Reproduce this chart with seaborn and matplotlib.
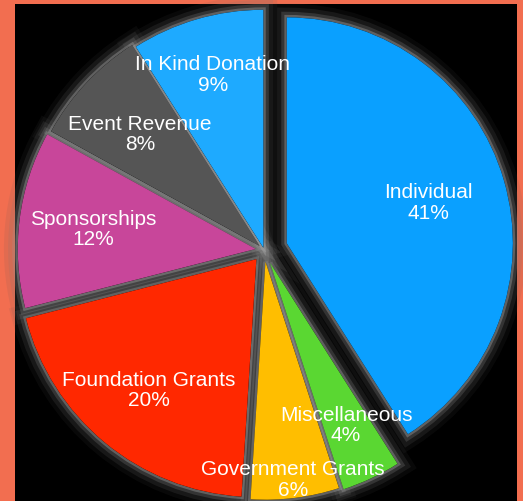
import numpy as np
import matplotlib
matplotlib.use("Agg")
import matplotlib.pyplot as plt
import matplotlib.patheffects as pe
import seaborn as sns

categories = ["Individual", "Miscellaneous", "Government Grants", "Foundation Grants",
              "Sponsorships", "Event Revenue", "In Kind Donation"]
values = [41, 4, 6, 20, 12, 8, 9]
hex_colors = ["#0AA0FF", "#5AD732", "#FFBE00", "#FF2800", "#C8469A", "#555555", "#1EAAFF"]

explode = [0.10, 0.06, 0.05, 0.05, 0.035, 0.025, 0.01]
label_dist = [0.62, 0.75, 0.92, 0.71, 0.69, 0.69, 0.76]

sns.set_style("dark")
plt.rcParams['font.family'] = ['Liberation Sans', 'DejaVu Sans']

colors = sns.color_palette(hex_colors)

fig = plt.figure(figsize=(5.23, 5.02), dpi=100)
fig.patch.set_facecolor("#F26E50")
ax = fig.add_axes([15 / 523, 0, 502 / 523, 497 / 502])

# glow layer
glow_wedges, _ = ax.pie(values, explode=explode, startangle=90, counterclock=False,
                        colors=["black"] * len(values), radius=1.0,
                        wedgeprops=dict(linewidth=0))
for w in glow_wedges:
    w.set_path_effects([
        pe.Stroke(linewidth=20, foreground="#555555", alpha=0.10),
        pe.Stroke(linewidth=14, foreground="#777777", alpha=0.15),
        pe.Stroke(linewidth=8, foreground="#999999", alpha=0.22),
        pe.Stroke(linewidth=3.5, foreground="#b5b5b5", alpha=0.35),
        pe.Normal(),
    ])

wedges, _ = ax.pie(values, explode=explode, startangle=90, counterclock=False,
                   colors=colors, radius=1.0, wedgeprops=dict(linewidth=0))

# Individual slice drawn slightly smaller
for w in (glow_wedges[0], wedges[0]):
    w.set_radius(0.95)

total = sum(values)
for w, cat, v, d in zip(wedges, categories, values, label_dist):
    ang = np.deg2rad((w.theta1 + w.theta2) / 2)
    cx, cy = w.center
    ax.text(cx + d * np.cos(ang), cy + d * np.sin(ang),
            f"{cat}\n{round(100 * v / total)}%",
            ha="center", va="center", color="white", fontsize=15,
            linespacing=1.1)

ax.set_xlim(-1.046, 1.063)
ax.set_ylim(-1.055, 1.034)
ax.set_aspect("equal")
ax.set_frame_on(True)
ax.set_facecolor("black")
for s in ax.spines.values():
    s.set_visible(False)
ax.set_xticks([])
ax.set_yticks([])
ax.grid(False)

fig.savefig("out.png", dpi=100, facecolor=fig.get_facecolor())
